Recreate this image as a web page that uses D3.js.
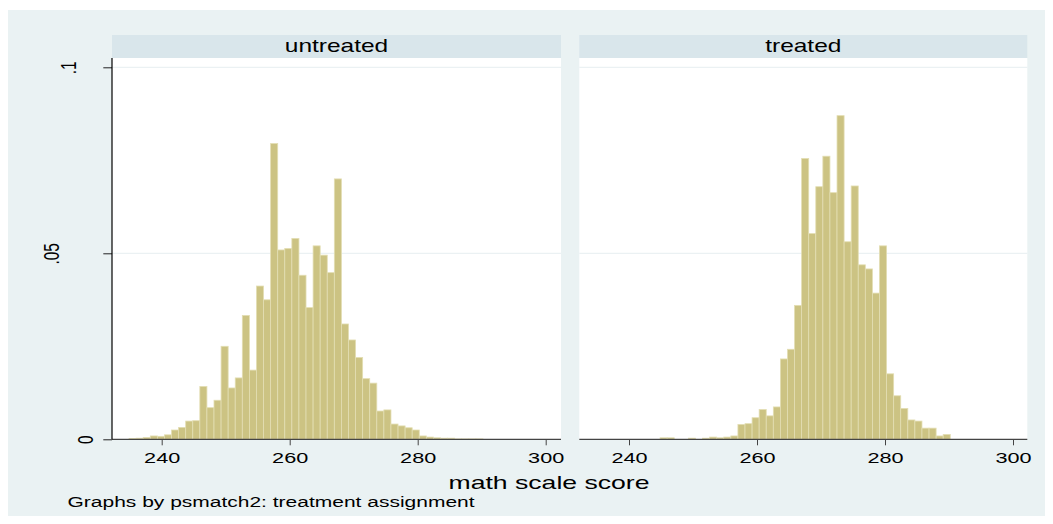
<!DOCTYPE html>
<html>
<head>
<meta charset="utf-8">
<script src="https://cdn.jsdelivr.net/npm/d3@7"></script>
<style>
  body { margin: 0; background: #fff; }
  text { font-family: "Liberation Sans", Arial, sans-serif; fill: #000; }
</style>
</head>
<body>
<script>
// histogram bins, shared by both groups
const binStart = 234.9;
const binWidth = 1.106;

const groups = ["untreated", "treated"];

// density per bin (50 bins)
const untreated = [
  0.0002, 0.0003, 0.0005, 0.0009, 0.0008, 0.0012, 0.0025, 0.0032, 0.0049, 0.0050,
  0.0142, 0.0085, 0.0105, 0.0250, 0.0138, 0.0165, 0.0333, 0.0186, 0.0412, 0.0375,
  0.0795, 0.0509, 0.0513, 0.0540, 0.0441, 0.0354, 0.0520, 0.0495, 0.0448, 0.0700,
  0.0310, 0.0267, 0.0220, 0.0163, 0.0151, 0.0076, 0.0079, 0.0041, 0.0036, 0.0031,
  0.0025, 0.0009, 0.0006, 0.0004, 0.0003, 0.0003, 0.0001, 0.0001, 0.0001, 0.0001
];
const treated = [
  0, 0, 0, 0, 0, 0, 0, 0, 0, 0.0004,
  0.0004, 0, 0, 0.0003, 0, 0.0003, 0.0006, 0.0004, 0.0006, 0.0009,
  0.0040, 0.0042, 0.0058, 0.0080, 0.0063, 0.0087, 0.0216, 0.0242, 0.0360, 0.0755,
  0.0553, 0.0679, 0.0761, 0.0663, 0.0870, 0.0531, 0.0681, 0.0469, 0.0458, 0.0393,
  0.0520, 0.0176, 0.0117, 0.0083, 0.0052, 0.0049, 0.0030, 0.0030, 0.0009, 0.0013
];

const xTicks = [240, 260, 280, 300];
const yTicks = [0, 0.05, 0.1];
const yTickLabels = ["0", ".05", ".1"];
const xTitle = "math scale score";
const note = "Graphs by psmatch2: treatment assignment";

// set up SVG
const width = 1053;
const height = 524;
const SX = 1.4; // the picture is stretched sideways, text too
const plotTop = 58;
const plotBottom = 439.3;

const svg = d3.select('body')
  .append('svg')
  .attr('width', width)
  .attr('height', height);

svg.append('rect')
  .attr('x', 8).attr('y', 10)
  .attr('width', width - 16).attr('height', height - 18)
  .attr('fill', '#eaf2f3');

const y = d3.scaleLinear().domain([0, 0.1]).range([plotBottom, 67.3]);

const panels = [
  { x0: 112, x1: 561, values: untreated },
  { x0: 579.3, x1: 1027.3, values: treated }
];

panels.forEach((p, i) => {
  const x = d3.scaleLinear().domain([240, 300]).range([p.x0 + 49.7, p.x0 + 433.7]);
  const g = svg.append('g');

  // strip with group name
  g.append('rect')
    .attr('x', p.x0).attr('y', 35)
    .attr('width', p.x1 - p.x0).attr('height', plotTop - 35)
    .attr('fill', '#d9e6eb');
  g.append('text')
    .attr('transform', `translate(${(p.x0 + p.x1) / 2},51.7) scale(${SX},1)`)
    .attr('text-anchor', 'middle')
    .style('font-size', '17.5px')
    .text(groups[i]);

  // plot region
  g.append('rect')
    .attr('x', p.x0).attr('y', plotTop)
    .attr('width', p.x1 - p.x0).attr('height', plotBottom - plotTop)
    .attr('fill', '#fff');

  // grid
  g.selectAll('line.grid')
    .data(yTicks.slice(1))
    .join('line')
    .attr('class', 'grid')
    .attr('x1', p.x0).attr('x2', p.x1)
    .attr('y1', d => y(d)).attr('y2', d => y(d))
    .attr('stroke', '#e6eef0')
    .attr('stroke-width', 1);

  // bars
  const bins = p.values
    .map((v, j) => ({ a: binStart + j * binWidth, b: binStart + (j + 1) * binWidth, v }))
    .filter(d => d.v > 0);

  g.selectAll('rect.bar')
    .data(bins)
    .join('rect')
    .attr('class', 'bar')
    .attr('x', d => x(d.a))
    .attr('width', d => x(d.b) - x(d.a))
    .attr('y', d => y(d.v))
    .attr('height', d => y(0) - y(d.v))
    .attr('fill', '#ccc383')
    .attr('stroke', '#e3deb3')
    .attr('stroke-width', 0.8);

  // x axis
  const ax = g.append('g')
    .attr('transform', `translate(0,${plotBottom})`)
    .call(d3.axisBottom(x).tickValues(xTicks).tickSize(6).tickSizeOuter(0));
  ax.select('.domain').remove();
  ax.selectAll('line').attr('stroke', '#444');
  ax.selectAll('text')
    .attr('y', 0).attr('dy', 0)
    .attr('transform', `translate(0,23.4) scale(${SX},1)`)
    .style('font-size', '15.5px');

  g.append('line')
    .attr('x1', p.x0).attr('x2', p.x1)
    .attr('y1', plotBottom).attr('y2', plotBottom)
    .attr('stroke', '#444')
    .attr('stroke-width', 1.2);

  // y axis only on the first panel
  if (i === 0) {
    const ay = g.append('g')
      .attr('transform', `translate(${p.x0},0)`)
      .call(d3.axisLeft(y).tickValues(yTicks).tickSize(8.7).tickSizeOuter(0)
        .tickFormat((d, k) => yTickLabels[k]));
    ay.select('.domain').remove();
    ay.selectAll('line').attr('stroke', '#222');
    ay.selectAll('text')
      .attr('x', 0).attr('dy', 0)
      .attr('text-anchor', 'middle')
      .attr('transform', (d, k) => {
        const bx = 93.3 - 17.4 * (yTickLabels[k].length - 1) - p.x0;
        return `translate(${bx},0) scale(${SX},1) rotate(-90)`;
      })
      .style('font-size', '15.5px');

    g.append('line')
      .attr('x1', p.x0).attr('x2', p.x0)
      .attr('y1', plotTop).attr('y2', plotBottom)
      .attr('stroke', '#000')
      .attr('stroke-width', 1.2);
  }
});

// axis title and note
svg.append('text')
  .attr('transform', `translate(549,488.5) scale(${SX},1)`)
  .attr('text-anchor', 'middle')
  .style('font-size', '19px')
  .text(xTitle);

svg.append('text')
  .attr('transform', `translate(67.5,507) scale(${SX},1)`)
  .style('font-size', '15px')
  .text(note);
</script>
</body>
</html>
